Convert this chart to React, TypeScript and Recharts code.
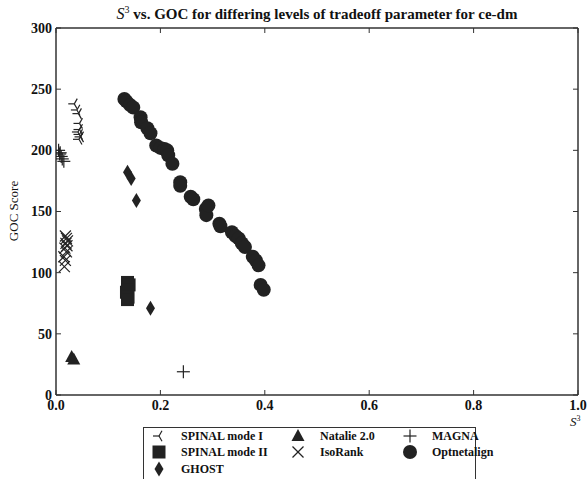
import React from 'react';
import { ScatterChart, Scatter, XAxis, YAxis } from 'recharts';

// S^3 values (x) and GOC scores (y), per aligner
const spinal1X = [0.035, 0.04, 0.043, 0.045, 0.045, 0.042, 0.045, 0.047, 0.044];
const spinal1Y = [238, 233, 230, 222, 217, 215, 213, 211, 209];

const spinal2X = [0.137, 0.14, 0.137, 0.135, 0.138, 0.137];
const spinal2Y = [92, 90, 86, 84, 80, 78];

const ghostX = [0.137, 0.144, 0.154, 0.181];
const ghostY = [182, 177, 159, 71];

const natalieX = [0.03, 0.034];
const natalieY = [31, 29];

const isoRankX = [0.018, 0.02, 0.022, 0.019, 0.021, 0.017, 0.02, 0.015, 0.018, 0.016];
const isoRankY = [130, 128, 126, 124, 122, 120, 117, 113, 110, 105];

const magnaX = [0.005, 0.007, 0.01, 0.012, 0.015, 0.008, 0.244];
const magnaY = [200, 197, 195, 193, 191, 198, 19];

const optX = [0.131, 0.135, 0.142, 0.148, 0.162, 0.163, 0.175, 0.181, 0.192, 0.2, 0.208, 0.213, 0.215, 0.223, 0.238, 0.238, 0.258, 0.263, 0.287, 0.288, 0.292, 0.313, 0.315, 0.337, 0.344, 0.35, 0.356, 0.362, 0.377, 0.383, 0.388, 0.392, 0.398];
const optY = [242, 240, 237, 235, 227, 223, 218, 214, 204, 202, 201, 200, 196, 189, 174, 171, 162, 160, 152, 147, 155, 140, 138, 133, 130, 128, 124, 121, 113, 110, 106, 90, 86];

const xTicks = [0, 0.2, 0.4, 0.6, 0.8, 1.0];
const yTicks = [0, 50, 100, 150, 200, 250, 300];

const zip = (xs: number[], ys: number[]) => xs.map((x, i) => ({ x, y: ys[i] }));

const INK = '#222222';
const FONT = '"Liberation Serif", "DejaVu Serif", serif';

type MarkerKind = 'tri' | 'square' | 'diamond' | 'triangle' | 'x' | 'plus' | 'circle';

const Marker = ({ kind, cx, cy }: { kind: MarkerKind; cx: number; cy: number }) => {
  switch (kind) {
    case 'tri': {
      const r = 6;
      return (
        <g stroke={INK} strokeWidth={1.2}>
          <line x1={cx} y1={cy} x2={cx - r} y2={cy} />
          <line x1={cx} y1={cy} x2={cx + r * 0.5} y2={cy - r * 0.87} />
          <line x1={cx} y1={cy} x2={cx + r * 0.5} y2={cy + r * 0.87} />
        </g>
      );
    }
    case 'square':
      return <rect x={cx - 6.5} y={cy - 6.5} width={13} height={13} fill={INK} />;
    case 'diamond':
      return <polygon points={`${cx},${cy - 7.5} ${cx + 4.5},${cy} ${cx},${cy + 7.5} ${cx - 4.5},${cy}`} fill={INK} />;
    case 'triangle':
      return <polygon points={`${cx},${cy - 7} ${cx + 6.5},${cy + 5} ${cx - 6.5},${cy + 5}`} fill={INK} />;
    case 'x':
      return (
        <g stroke={INK} strokeWidth={1.2}>
          <line x1={cx - 5.5} y1={cy - 5.5} x2={cx + 5.5} y2={cy + 5.5} />
          <line x1={cx - 5.5} y1={cy + 5.5} x2={cx + 5.5} y2={cy - 5.5} />
        </g>
      );
    case 'plus':
      return (
        <g stroke={INK} strokeWidth={1.2}>
          <line x1={cx - 6.5} y1={cy} x2={cx + 6.5} y2={cy} />
          <line x1={cx} y1={cy - 6.5} x2={cx} y2={cy + 6.5} />
        </g>
      );
    default:
      return <circle cx={cx} cy={cy} r={7} fill={INK} />;
  }
};

const shapeOf = (kind: MarkerKind) => (p: any) => <Marker kind={kind} cx={p.cx} cy={p.cy} />;

const series: { name: string; kind: MarkerKind; data: { x: number; y: number }[] }[] = [
  { name: 'SPINAL mode I', kind: 'tri', data: zip(spinal1X, spinal1Y) },
  { name: 'SPINAL mode II', kind: 'square', data: zip(spinal2X, spinal2Y) },
  { name: 'GHOST', kind: 'diamond', data: zip(ghostX, ghostY) },
  { name: 'Natalie 2.0', kind: 'triangle', data: zip(natalieX, natalieY) },
  { name: 'IsoRank', kind: 'x', data: zip(isoRankX, isoRankY) },
  { name: 'MAGNA', kind: 'plus', data: zip(magnaX, magnaY) },
  { name: 'Optnetalign', kind: 'circle', data: zip(optX, optY) },
];

// legend laid out column by column like matplotlib (3 columns)
const legendCols = [
  ['SPINAL mode I', 'SPINAL mode II', 'GHOST'],
  ['Natalie 2.0', 'IsoRank'],
  ['MAGNA', 'Optnetalign'],
];
const legendColX = [143, 282, 394];
const legendRowY = [436, 452, 469];

const tickStyle = { fontFamily: FONT, fontSize: 14, fontWeight: 'bold' as const, fill: '#111' };
const axisLine = { stroke: '#333', strokeWidth: 1.5 };

const App = () => {
  return (
    <div style={{ position: 'absolute', left: 0, top: 0, width: 588, height: 479, background: '#fff', fontFamily: FONT }}>
      <ScatterChart width={588} height={479} margin={{ top: 27, right: 9, bottom: 54, left: 0 }}>
        <XAxis
          xAxisId="b"
          type="number"
          dataKey="x"
          domain={[0, 1]}
          ticks={xTicks}
          tickFormatter={(v: number) => v.toFixed(1)}
          height={30}
          tickSize={-5}
          tickMargin={10}
          axisLine={axisLine}
          tickLine={{ stroke: '#333' }}
          tick={tickStyle}
          allowDataOverflow
        />
        <XAxis
          xAxisId="t"
          orientation="top"
          type="number"
          dataKey="x"
          domain={[0, 1]}
          ticks={xTicks}
          height={1}
          tickSize={-5}
          tickMargin={0}
          tickFormatter={() => ''}
          axisLine={axisLine}
          tickLine={{ stroke: '#333' }}
        />
        <YAxis
          yAxisId="l"
          type="number"
          dataKey="y"
          domain={[0, 300]}
          ticks={yTicks}
          width={56}
          tickSize={-5}
          tickMargin={9}
          axisLine={axisLine}
          tickLine={{ stroke: '#333' }}
          tick={tickStyle}
          allowDataOverflow
        />
        <YAxis
          yAxisId="r"
          orientation="right"
          type="number"
          dataKey="y"
          domain={[0, 300]}
          ticks={yTicks}
          width={1}
          tickSize={-5}
          tickMargin={0}
          tickFormatter={() => ''}
          axisLine={axisLine}
          tickLine={{ stroke: '#333' }}
        />
        {series.map((s) => (
          <Scatter
            key={s.name}
            name={s.name}
            data={s.data}
            xAxisId="b"
            yAxisId="l"
            shape={shapeOf(s.kind)}
            isAnimationActive={false}
          />
        ))}
        {/* invisible scatter so the top/right axes are bound to data */}
        <Scatter data={series[0].data} xAxisId="t" yAxisId="r" shape={() => <g />} isAnimationActive={false} />
      </ScatterChart>

      <div style={{ position: 'absolute', left: 0, width: 634, top: 4, textAlign: 'center', fontSize: 15, fontWeight: 'bold', color: '#111', whiteSpace: 'nowrap' }}>
        <span style={{ fontStyle: 'italic', fontWeight: 'normal', fontSize: 16 }}>S</span>
        <sup style={{ fontWeight: 'normal', fontSize: 10 }}>3</sup>
        {' '}vs. GOC for differing levels of tradeoff parameter for ce-dm
      </div>

      <div style={{ position: 'absolute', left: 14, top: 211, transform: 'translate(-50%, -50%) rotate(-90deg)', fontSize: 13, color: '#111', whiteSpace: 'nowrap' }}>
        GOC Score
      </div>

      <div style={{ position: 'absolute', left: 570, top: 414, fontSize: 13, color: '#111', whiteSpace: 'nowrap' }}>
        <span style={{ fontStyle: 'italic' }}>S</span>
        <sup style={{ fontSize: 8 }}>3</sup>
      </div>

      <div style={{ position: 'absolute', left: legendColX[0], top: 427, width: 333, height: 52, border: '1.5px solid #333', borderBottom: 'none', boxSizing: 'border-box' }} />
      {legendCols.map((col, ci) =>
        col.map((name, ri) => {
          const s = series.find((d) => d.name === name)!;
          return (
            <div key={name} style={{ position: 'absolute', left: legendColX[ci] + 6, top: legendRowY[ri] - 8, height: 16, display: 'flex', alignItems: 'center', whiteSpace: 'nowrap' }}>
              <svg width={20} height={16}>
                <Marker kind={s.kind} cx={10} cy={8} />
              </svg>
              <span style={{ marginLeft: 12, fontSize: 12, fontWeight: 'bold', color: '#111' }}>{name}</span>
            </div>
          );
        })
      )}
    </div>
  );
};

export default App;
